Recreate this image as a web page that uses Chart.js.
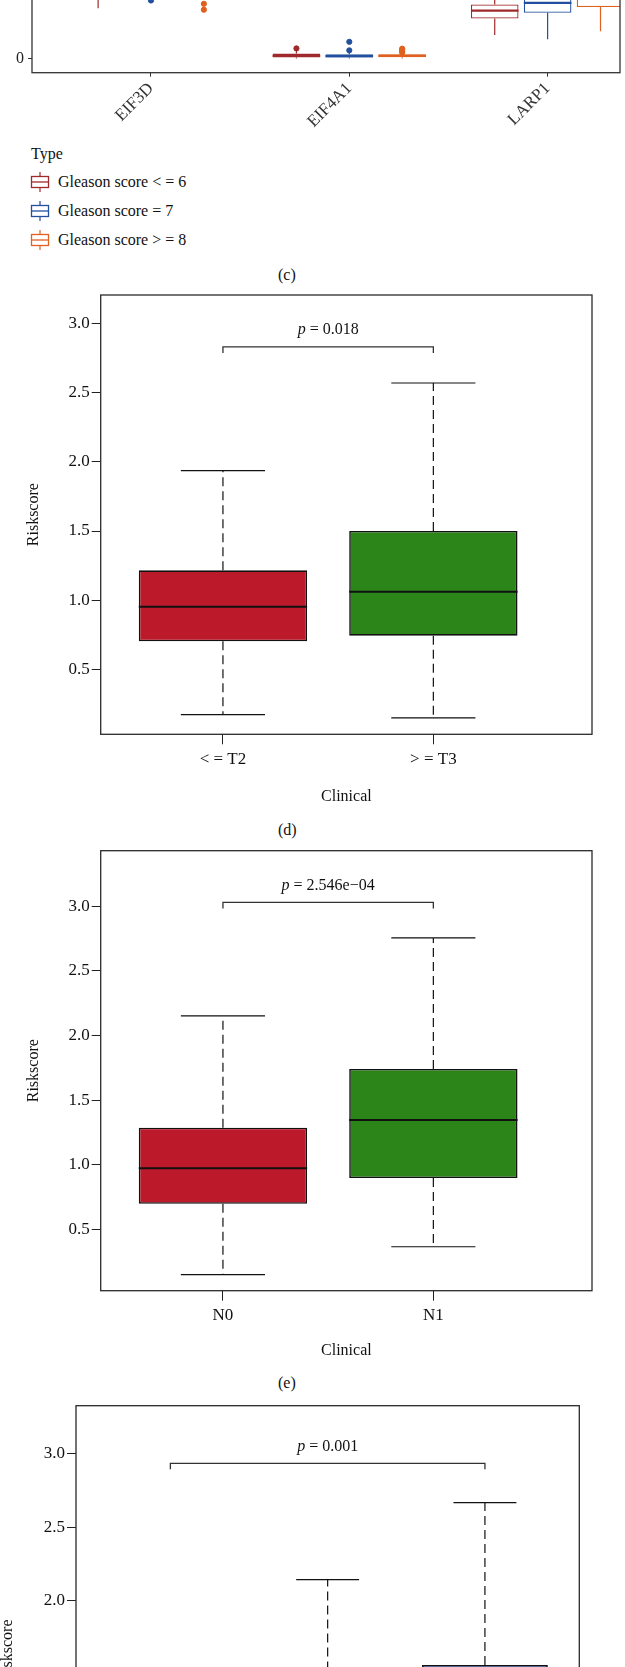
<!DOCTYPE html>
<html>
<head>
<meta charset="utf-8">
<script src="https://cdn.jsdelivr.net/npm/chart.js@4.4.0/dist/chart.umd.min.js"></script>
<style>
  html, body { margin: 0; padding: 0; background: #fff; overflow: hidden; }
  body { width: 625px; height: 1667px; position: relative; font-family: "Liberation Serif", "Times New Roman", serif; color: #111; }
  .panel { position: absolute; left: 0; width: 625px; }
  .txt { position: absolute; font-size: 16px; line-height: 18px; white-space: nowrap; }
  .item svg { position: absolute; left: -29px; top: -1px; }
</style>
</head>
<body>
<div class="panel" style="top:-240px;height:370px"><canvas id="chartC" width="625" height="370"></canvas></div>
<div id="leyenda"></div>
<div class="txt" style="left:278px;top:266px">(c)</div>
<div class="panel" style="top:285px;height:530px"><canvas id="chartD" width="625" height="530"></canvas></div>
<div class="txt" style="left:278px;top:821px">(d)</div>
<div class="panel" style="top:840px;height:530px"><canvas id="chartE" width="625" height="530"></canvas></div>
<div class="txt" style="left:278px;top:1374px">(e)</div>
<div class="panel" style="top:1395px;height:600px"><canvas id="chartF" width="625" height="600"></canvas></div>

<script>
const serif = '"Liberation Serif", "Times New Roman", serif';

// (c) expresión de genes según Gleason (solo se ve la parte baja)
const genes = ['EIF3D', 'EIF4A1', 'LARP1'];
const gleasonTypes = ['Gleason score < = 6', 'Gleason score = 7', 'Gleason score > = 8'];
const gleasonColors = ['#9e2a2b', '#23509e', '#e0601f'];
// filas = tipo, columnas = gen
const cLow  = [[51, 0, 24], [66, 0, 19.6], [64, 0, 27.6]];
const cQ1   = [[80, 1, 40.6], [95, 1, 46.6], [90, 1.3, 52.3]];
const cMed  = [[100, 2.8, 48.6], [118, 2.5, 56.6], [112, 2.8, 65]];
const cQ3   = [[125, 5, 55], [140, 4.3, 72], [135, 4.3, 80]];
const cHigh = [[170, 8, 80], [190, 6, 110], [180, 5.5, 120]];
const cOutliers = [
  [[], [10.3], []],
  [[59], [8.3, 17], []],
  [[55.6, 49.6], [6, 7.5, 9, 10], []]
];
const cTicks = [0, 100, 200];

// (d) estadio T
const estadiosT = ['< = T2', '> = T3'];
const tLo = [0.175, 0.151];
const tQ1 = [0.704, 0.745];
const tMed = [0.954, 1.062];
const tQ3 = [1.216, 1.500];
const tHi = [1.935, 2.568];
const tBracket = 2.828;
const tP = '0.018';

// (e) estadio N
const estadiosN = ['N0', 'N1'];
const nLo = [0.149, 0.365];
const nQ1 = [0.698, 0.897];
const nMed = [0.972, 1.346];
const nQ3 = [1.286, 1.741];
const nHi = [2.151, 2.755];
const nBracket = 3.03;
const nP = '2.546e\u221204';

// (f) cortado abajo
const gradosG = ['< = 6', '7', '> = 8'];
const gLo = [0.15, 0.22, 0.25];
const gQ1 = [0.62, 0.78, 0.88];
const gMed = [0.85, 1.02, 1.18];
const gQ3 = [1.10, 1.34, 1.567];
const gHi = [1.50, 2.144, 2.666];
const gBracket = 2.932;
const gP = '0.001';

const riskTicks = [0.5, 1.0, 1.5, 2.0, 2.5, 3.0];
const rojo = '#bc1a2b', verde = '#2b8519', azul = '#1f4fa0';

// whiskers, caps y mediana
const cajasPlugin = {
  id: 'cajas',
  afterDatasetsDraw(chart) {
    const ctx = chart.ctx, ys = chart.scales.y;
    chart.data.datasets.forEach((ds, di) => {
      if (!ds.lo) return;
      chart.getDatasetMeta(di).data.forEach((bar, i) => {
        const [q1, q3] = ds.data[i].y;
        const x = bar.x, w = bar.width;
        ctx.save();
        ctx.strokeStyle = ds.whiskerColor;
        ctx.lineWidth = ds.whiskerWidth;
        ctx.setLineDash(ds.whiskerDash || []);
        ctx.beginPath();
        ctx.moveTo(x, ys.getPixelForValue(q3)); ctx.lineTo(x, ys.getPixelForValue(ds.hi[i]));
        ctx.moveTo(x, ys.getPixelForValue(q1)); ctx.lineTo(x, ys.getPixelForValue(ds.lo[i]));
        ctx.stroke();
        ctx.setLineDash([]);
        if (ds.capRatio) {
          const cw = w * ds.capRatio / 2;
          ctx.beginPath();
          [ds.hi[i], ds.lo[i]].forEach(v => {
            const yy = ys.getPixelForValue(v);
            ctx.moveTo(x - cw, yy); ctx.lineTo(x + cw, yy);
          });
          ctx.stroke();
        }
        const ym = ys.getPixelForValue(ds.med[i]);
        ctx.strokeStyle = ds.medianColor;
        ctx.lineWidth = ds.medianWidth;
        ctx.beginPath();
        ctx.moveTo(x - w / 2, ym); ctx.lineTo(x + w / 2, ym);
        ctx.stroke();
        ctx.restore();
      });
    });
  }
};

// marco del panel
const marcoPlugin = {
  id: 'marco',
  afterDraw(chart, args, opts) {
    const a = chart.chartArea, ctx = chart.ctx;
    ctx.save();
    ctx.strokeStyle = opts.color || '#2a2a2a';
    ctx.lineWidth = opts.width || 1.3;
    ctx.strokeRect(a.left, a.top, a.right - a.left, a.bottom - a.top);
    ctx.restore();
  }
};

// corchete con valor p
const corchetePlugin = {
  id: 'corchete',
  afterDraw(chart, args, opts) {
    if (!opts.text) return;
    const ctx = chart.ctx, xs = chart.scales.x, ys = chart.scales.y;
    const x1 = xs.getPixelForValue(opts.from), x2 = xs.getPixelForValue(opts.to);
    const yb = ys.getPixelForValue(opts.y);
    ctx.save();
    ctx.strokeStyle = '#333';
    ctx.lineWidth = 1.3;
    ctx.beginPath();
    ctx.moveTo(x1, yb + 6); ctx.lineTo(x1, yb); ctx.lineTo(x2, yb); ctx.lineTo(x2, yb + 6);
    ctx.stroke();
    const fItal = 'italic 16px ' + serif, fNorm = '16px ' + serif;
    const resto = ' = ' + opts.text;
    ctx.font = fItal; const wp = ctx.measureText('p').width;
    ctx.font = fNorm; const wr = ctx.measureText(resto).width;
    const x0 = (x1 + x2) / 2 - (wp + wr) / 2, yt = yb - 17;
    ctx.fillStyle = '#111';
    ctx.textBaseline = 'middle';
    ctx.textAlign = 'left';
    ctx.font = fItal; ctx.fillText('p', x0, yt);
    ctx.font = fNorm; ctx.fillText(resto, x0 + wp, yt);
    ctx.restore();
  }
};

// Panel (c)
const dodge = 0.8 / 3;
const dsC = gleasonTypes.map((name, t) => ({
  type: 'bar',
  label: name,
  data: genes.map((g, i) => ({ x: i + 1, y: [cQ1[t][i], cQ3[t][i]] })),
  lo: cLow[t], hi: cHigh[t], med: cMed[t],
  backgroundColor: '#ffffff',
  borderColor: gleasonColors[t],
  borderWidth: 1.3,
  borderSkipped: false,
  categoryPercentage: 0.8,
  barPercentage: 0.9,
  whiskerColor: gleasonColors[t], whiskerWidth: 1.2,
  medianColor: gleasonColors[t], medianWidth: 2.2
}));
const ptsC = gleasonTypes.map((name, t) => ({
  type: 'scatter',
  label: name,
  data: cOutliers[t].flatMap((vals, i) => vals.map(v => ({ x: i + 1 + (t - 1) * dodge, y: v }))),
  backgroundColor: gleasonColors[t],
  borderColor: gleasonColors[t],
  pointRadius: 2.6
}));

new Chart(document.getElementById('chartC'), {
  type: 'bar',
  data: { datasets: [...dsC, ...ptsC] },
  plugins: [cajasPlugin, marcoPlugin],
  options: {
    responsive: false, animation: false, events: [],
    layout: { padding: { left: 0, right: 0, top: 0, bottom: 0 } },
    plugins: { legend: { display: false }, tooltip: { enabled: false }, marco: { color: '#333', width: 1.3 } },
    scales: {
      x: {
        type: 'linear', min: 0.4, max: 3.365, offset: false,
        afterBuildTicks: s => { s.ticks = genes.map((g, i) => ({ value: i + 1 })); },
        afterFit: s => { s.height = 57.3; s.paddingLeft = 0; s.paddingRight = 0; },
        ticks: { callback: (v, i) => genes[i], font: { family: serif, size: 17 }, color: '#333',
                 minRotation: 45, maxRotation: 45, autoSkip: false, padding: 2 },
        grid: { offset: false, drawOnChartArea: false, tickLength: 4, color: '#333' },
        border: { display: false }
      },
      y: {
        min: -14.4, max: 298.3,
        afterBuildTicks: s => { s.ticks = cTicks.map(v => ({ value: v })); },
        afterFit: s => { s.width = 32; s.paddingTop = 0; s.paddingBottom = 0; },
        ticks: { font: { family: serif, size: 16 }, color: '#222', padding: 4 },
        grid: { drawOnChartArea: false, tickLength: 4, color: '#333' },
        border: { display: false }
      }
    }
  }
});

// leyenda (c)
const leyenda = document.getElementById('leyenda');
leyenda.innerHTML = '<div class="txt" style="left:31px;top:145px">Type</div>' +
  gleasonTypes.map((name, t) => {
    const c = gleasonColors[t];
    const top = [172.7, 202, 231][t];
    return '<div class="txt item" style="left:58px;top:' + top + 'px">' +
      '<svg width="22" height="20" viewBox="0 0 22 20">' +
      '<line x1="11" y1="0" x2="11" y2="4.5" stroke="' + c + '" stroke-width="1.2"/>' +
      '<rect x="2.5" y="4.5" width="17" height="11" fill="none" stroke="' + c + '" stroke-width="1.3"/>' +
      '<line x1="2.5" y1="10" x2="19.5" y2="10" stroke="' + c + '" stroke-width="1.3"/>' +
      '<line x1="11" y1="15.5" x2="11" y2="20" stroke="' + c + '" stroke-width="1.2"/>' +
      '</svg>' + name + '</div>';
  }).join('');

// Paneles (d), (e), (f)
function riskChart(id, cfg) {
  return new Chart(document.getElementById(id), {
    type: 'bar',
    data: {
      datasets: [{
        label: 'Riskscore',
        data: cfg.labels.map((l, i) => ({ x: i + 1, y: [cfg.q1[i], cfg.q3[i]] })),
        lo: cfg.lo, hi: cfg.hi, med: cfg.med,
        backgroundColor: cfg.colors,
        borderColor: '#111',
        borderWidth: 1.6,
        borderSkipped: false,
        categoryPercentage: 1,
        barPercentage: 0.8,
        whiskerColor: '#111', whiskerWidth: 1.2, whiskerDash: [9, 5], capRatio: 0.5,
        medianColor: '#111', medianWidth: 2
      }]
    },
    plugins: [cajasPlugin, marcoPlugin, corchetePlugin],
    options: {
      responsive: false, animation: false, events: [],
      layout: { padding: { left: 0, right: cfg.padRight, top: cfg.padTop, bottom: 0 } },
      plugins: {
        legend: { display: false }, tooltip: { enabled: false },
        marco: { color: '#2a2a2a', width: 1.3 },
        corchete: { from: cfg.from, to: cfg.to, y: cfg.bracket, text: cfg.p }
      },
      scales: {
        x: {
          type: 'linear', min: cfg.xmin, max: cfg.xmax, offset: false,
          afterBuildTicks: s => { s.ticks = cfg.labels.map((l, i) => ({ value: i + 1 })); },
          afterFit: s => { s.height = cfg.xAxisH; s.paddingLeft = 0; s.paddingRight = 0; },
          ticks: { callback: (v, i) => cfg.labels[i], font: { family: serif, size: 17 }, color: '#111',
                   padding: 5, autoSkip: false, maxRotation: 0 },
          grid: { offset: false, drawOnChartArea: false, tickLength: 10, color: '#222' },
          border: { display: false },
          title: { display: true, text: 'Clinical', font: { family: serif, size: 16 }, color: '#111',
                   padding: { top: 0, bottom: cfg.xTitlePad } }
        },
        y: {
          min: cfg.ymin, max: cfg.ymax,
          afterBuildTicks: s => { s.ticks = riskTicks.map(v => ({ value: v })); },
          afterFit: s => { s.width = cfg.yAxisW; s.paddingTop = 0; s.paddingBottom = 0; },
          ticks: { callback: v => v.toFixed(1), font: { family: serif, size: 17 }, color: '#111', padding: 2 },
          grid: { drawOnChartArea: false, tickLength: 9, color: '#222' },
          border: { display: false },
          title: { display: true, text: 'Riskscore', font: { family: serif, size: 16 }, color: '#111',
                   padding: { top: cfg.yTitlePad, bottom: 0 } }
        }
      }
    }
  });
}

riskChart('chartD', {
  labels: estadiosT, lo: tLo, q1: tQ1, med: tMed, q3: tQ3, hi: tHi, colors: [rojo, verde],
  from: 1, to: 2, bracket: tBracket, p: tP,
  xmin: 0.419, xmax: 2.754, ymin: 0.033, ymax: 3.203,
  padTop: 10, padRight: 33, xAxisH: 80.7, yAxisW: 100.7, xTitlePad: 8.4, yTitlePad: 24.4
});

riskChart('chartE', {
  labels: estadiosN, lo: nLo, q1: nQ1, med: nMed, q3: nQ3, hi: nHi, colors: [rojo, verde],
  from: 1, to: 2, bracket: nBracket, p: nP,
  xmin: 0.419, xmax: 2.754, ymin: 0.025, ymax: 3.43,
  padTop: 10.7, padRight: 33, xAxisH: 79.3, yAxisW: 100.7, xTitlePad: 9.4, yTitlePad: 24.4
});

riskChart('chartF', {
  labels: gradosG, lo: gLo, q1: gQ1, med: gMed, q3: gQ3, hi: gHi, colors: [rojo, verde, azul],
  from: 1, to: 3, bracket: gBracket, p: gP,
  xmin: 0.4, xmax: 3.6, ymin: 0, ymax: 3.322,
  padTop: 10.7, padRight: 45.7, xAxisH: 98.6, yAxisW: 76, xTitlePad: 9, yTitlePad: -1.5
});
</script>
</body>
</html>
